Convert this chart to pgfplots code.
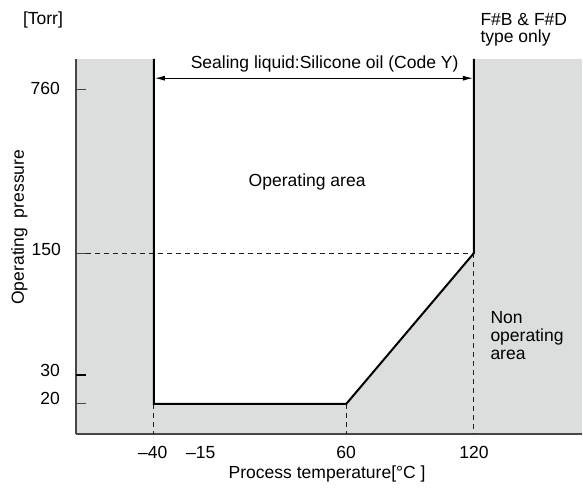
\documentclass[border=0pt]{standalone}
\usepackage{fontspec}
\setmainfont{Liberation Sans}
\usepackage{pgfplots}
\pgfplotsset{compat=1.18}
\usetikzlibrary{arrows.meta}
\definecolor{bg}{RGB}{220,221,221}
\definecolor{txt}{RGB}{30,30,30}
\definecolor{axc}{RGB}{70,70,70}
\begin{document}
\fontsize{17.6}{20}\selectfont
\begin{tikzpicture}
\begin{axis}[
  scale only axis, width=507bp, height=375.5bp,
  xmin=76, xmax=583, ymin=48.5, ymax=424,
  axis x line*=bottom, axis y line*=left,
  axis line style={-, draw=axc, line width=1.3bp},
  xtick=\empty, ytick=\empty,
  axis background/.style={fill=bg},
  clip=false,
  font=\fontsize{17.6}{20}\selectfont,
  every node/.append style={text=txt, inner sep=0pt, outer sep=0pt},
]
% operating area (white polygon): (temperature position, pressure position)
\addplot[draw=none, fill=white] coordinates {(154,424) (154,78.7) (346.7,78.7) (474.5,229.7) (474.5,424)} -- cycle;
% reference dashed lines
\addplot[txt, line width=1bp, dash pattern=on 5bp off 4bp] coordinates {(86,229.7) (474.5,229.7)};
\addplot[txt, line width=1bp, dash pattern=on 5bp off 4bp] coordinates {(154,78.7) (154,48.5)};
\addplot[txt, line width=1bp, dash pattern=on 5bp off 4bp] coordinates {(346.7,78.7) (346.7,48.5)};
\addplot[txt, line width=1bp, dash pattern=on 5bp off 4bp] coordinates {(474.5,229.7) (474.5,48.5)};
% boundary
\addplot[black, line width=2bp, line join=miter] coordinates {(154,424) (154,78.7) (346.7,78.7) (474.5,229.7) (474.5,424)};
% y ticks
\draw[axc, line width=1bp] (axis cs:76,393) -- (axis cs:86,393);
\draw[axc, line width=1bp] (axis cs:76,229.7) -- (axis cs:86,229.7);
\draw[black, line width=2bp] (axis cs:76,108) -- (axis cs:86,108);
\draw[axc, line width=1bp] (axis cs:76,78.7) -- (axis cs:86,78.7);
% tick labels
\node[anchor=base east] at (axis cs:66,388) {760};
\node[anchor=base east] at (axis cs:67,227) {150};
\node[anchor=base east] at (axis cs:66,106) {30};
\node[anchor=base east] at (axis cs:66,78) {20};
\node[anchor=base] at (axis cs:153,24) {\textendash40};
\node[anchor=base] at (axis cs:201,24) {\textendash15};
\node[anchor=base] at (axis cs:346.5,24) {60};
\node[anchor=base] at (axis cs:474.5,24) {120};
% axis titles
\node[anchor=base] at (axis cs:327.5,4) {Process temperature[°C ]};
\node[anchor=base, rotate=90] at (axis cs:24,255.5) {Operating\ \ pressure};
\node[anchor=base west] at (axis cs:17,458) {[Torr]};
% annotations
\draw[black, line width=1bp, {Latex[length=10bp,width=5bp]}-{Latex[length=10bp,width=5bp]}] (axis cs:155,404.7) -- (axis cs:473.5,404.7);
\node[anchor=base] at (axis cs:325,414) {Sealing liquid:Silicone oil (Code Y)};
\node[anchor=base] at (axis cs:307.5,296) {Operating area};
\node[anchor=base west] at (axis cs:475,457) {F\#B \& F\#D};
\node[anchor=base west] at (axis cs:475,440) {type only};
\node[anchor=base west] at (axis cs:485,159) {Non};
\node[anchor=base west] at (axis cs:485,141) {operating};
\node[anchor=base west] at (axis cs:485,123) {area};
\coordinate (bl) at (axis cs:0,0);
\coordinate (tr) at (axis cs:583,483);
\end{axis}
\path (bl) rectangle (tr);
\end{tikzpicture}
\end{document}
